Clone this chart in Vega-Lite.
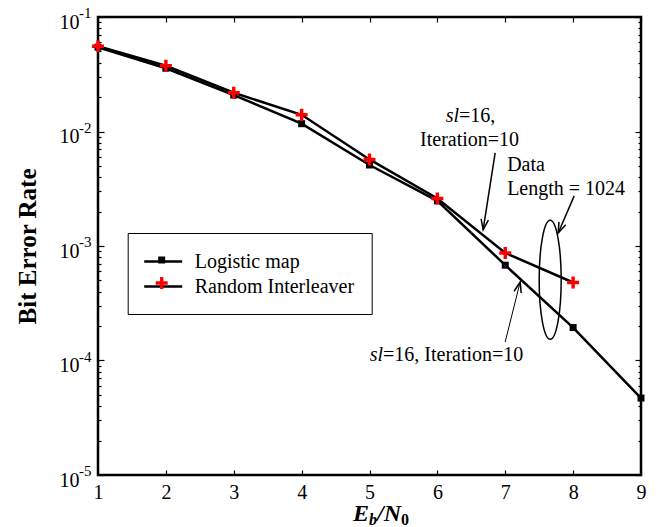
{
  "$schema": "https://vega.github.io/schema/vega-lite/v6.json",
  "width": 543,
  "height": 458,
  "autosize": {"type": "none"},
  "padding": {"left": 98, "top": 17, "right": 22, "bottom": 52},
  "background": "white",
  "config": {
    "view": {"stroke": "black", "strokeWidth": 2.5},
    "font": "Liberation Serif",
    "axis": {"domain": false, "grid": false, "tickColor": "black", "labelColor": "black", "labelFont": "Liberation Serif", "titleFont": "Liberation Serif", "titleColor": "black", "labelFlush": false, "labelOverlap": false},
    "legend": {"labelFont": "Liberation Serif", "labelColor": "black"},
    "text": {"font": "Liberation Serif", "color": "black"}
  },
  "datasets": {
    "ber": [
      {"snr": 1, "ber": 0.0545, "series": "Logistic map"},
      {"snr": 2, "ber": 0.0357, "series": "Logistic map"},
      {"snr": 3, "ber": 0.0208, "series": "Logistic map"},
      {"snr": 4, "ber": 0.0117, "series": "Logistic map"},
      {"snr": 5, "ber": 0.0051, "series": "Logistic map"},
      {"snr": 6, "ber": 0.00248, "series": "Logistic map"},
      {"snr": 7, "ber": 0.00068, "series": "Logistic map"},
      {"snr": 8, "ber": 0.000194, "series": "Logistic map"},
      {"snr": 9, "ber": 0.000047, "series": "Logistic map"},
      {"snr": 1, "ber": 0.0555, "series": "Random Interleaver"},
      {"snr": 2, "ber": 0.0375, "series": "Random Interleaver"},
      {"snr": 3, "ber": 0.0218, "series": "Random Interleaver"},
      {"snr": 4, "ber": 0.014, "series": "Random Interleaver"},
      {"snr": 5, "ber": 0.0057, "series": "Random Interleaver"},
      {"snr": 6, "ber": 0.0026, "series": "Random Interleaver"},
      {"snr": 7, "ber": 0.00087, "series": "Random Interleaver"},
      {"snr": 8, "ber": 0.00048, "series": "Random Interleaver"}
    ],
    "exps": [
      {"v": 0.1, "e": "-1"},
      {"v": 0.01, "e": "-2"},
      {"v": 0.001, "e": "-3"},
      {"v": 0.0001, "e": "-4"},
      {"v": 0.00001, "e": "-5"}
    ]
  },
  "layer": [
    {
      "data": {"name": "ber"},
      "mark": {"type": "line", "strokeWidth": 2.5},
      "encoding": {
        "x": {"field": "snr", "type": "quantitative",
          "scale": {"type": "linear", "domain": [1, 9], "nice": false, "zero": false},
          "axis": {"orient": "bottom", "values": [1, 2, 3, 4, 5, 6, 7, 8, 9], "format": "d", "labelFontSize": 20, "labelPadding": 12, "tickSize": -5, "tickWidth": 1.2, "title": null}},
        "y": {"field": "ber", "type": "quantitative",
          "scale": {"type": "log", "domain": [0.00001, 0.1], "nice": false},
          "axis": {"orient": "left",
            "values": [0.00001, 0.00002, 0.00003, 0.00004, 0.00005, 0.00006, 0.00007, 0.00008, 0.00009, 0.0001, 0.0002, 0.0003, 0.0004, 0.0005, 0.0006, 0.0007, 0.0008, 0.0009, 0.001, 0.002, 0.003, 0.004, 0.005, 0.006, 0.007, 0.008, 0.009, 0.01, 0.02, 0.03, 0.04, 0.05, 0.06, 0.07, 0.08, 0.09, 0.1],
            "labelExpr": "indexof([0.1,0.01,0.001,0.0001,0.00001], datum.value) >= 0 ? '10' : ''",
            "labelFontSize": 20, "labelPadding": 25, "labelOffset": 11, "labelBaseline": "alphabetic",
            "tickSize": {"condition": {"test": "indexof([0.1,0.01,0.001,0.0001,0.00001], datum.value) >= 0", "value": -6}, "value": -3},
            "tickWidth": 1.2,
            "title": "Bit Error Rate", "titleFontSize": 25, "titleFontWeight": "bold",
            "titleX": -71, "titleY": 229, "titleAngle": -90, "titleBaseline": "middle", "titleAlign": "center"}},
        "stroke": {"field": "series", "type": "nominal",
          "scale": {"domain": ["Logistic map", "Random Interleaver"], "range": ["black", "black"]},
          "legend": {"orient": "none", "legendX": 29.7, "legendY": 216, "title": null, "padding": 17, "rowPadding": 3,
            "symbolType": "M-1.2,0H2.6", "symbolSize": 400, "symbolStrokeWidth": 2.5, "labelFontSize": 20, "labelOffset": 27,
            "strokeColor": "black", "labelColor": "black", "zindex": 1}}
      }
    },
    {
      "data": {"name": "ber"},
      "mark": {"type": "point", "filled": true, "size": 400, "opacity": 1, "strokeWidth": 0},
      "encoding": {
        "x": {"field": "snr", "type": "quantitative",
          "scale": {"type": "linear", "domain": [1, 9], "nice": false, "zero": false},
          "axis": {"orient": "top", "values": [1, 2, 3, 4, 5, 6, 7, 8, 9], "labels": false, "tickSize": -5, "tickWidth": 1.2, "title": null}},
        "y": {"field": "ber", "type": "quantitative",
          "scale": {"type": "log", "domain": [0.00001, 0.1], "nice": false},
          "axis": {"orient": "right",
            "values": [0.00001, 0.00002, 0.00003, 0.00004, 0.00005, 0.00006, 0.00007, 0.00008, 0.00009, 0.0001, 0.0002, 0.0003, 0.0004, 0.0005, 0.0006, 0.0007, 0.0008, 0.0009, 0.001, 0.002, 0.003, 0.004, 0.005, 0.006, 0.007, 0.008, 0.009, 0.01, 0.02, 0.03, 0.04, 0.05, 0.06, 0.07, 0.08, 0.09, 0.1],
            "labels": false,
            "tickSize": {"condition": {"test": "indexof([0.1,0.01,0.001,0.0001,0.00001], datum.value) >= 0", "value": -6}, "value": -3},
            "tickWidth": 1.2, "title": null}},
        "color": {"field": "series", "type": "nominal",
          "scale": {"range": ["black", "#ff0000"]},
          "legend": {"orient": "none", "legendX": 36.7, "legendY": 216, "title": null, "padding": 17, "rowPadding": 3,
            "symbolSize": 400, "symbolStrokeWidth": 0, "labelFontSize": 20, "labelOffset": 27, "labelExpr": "''", "zindex": 2}},
        "shape": {"field": "series", "type": "nominal",
          "scale": {"range": ["M-0.35,-0.35H0.35V0.35H-0.35Z", "M-0.17,-0.6H0.17V-0.17H0.6V0.17H0.17V0.6H-0.17V0.17H-0.6V-0.17H-0.17Z"]},
          "legend": {"orient": "none", "legendX": 36.7, "legendY": 216, "title": null, "padding": 17, "rowPadding": 3,
            "symbolSize": 400, "symbolStrokeWidth": 0, "labelFontSize": 20, "labelOffset": 27, "labelExpr": "''", "zindex": 2}}
      }
    },
    {
      "data": {"name": "exps"},
      "mark": {"type": "text", "align": "left", "baseline": "alphabetic", "dx": -19, "dy": 1, "fontSize": 15},
      "encoding": {
        "x": {"datum": 1, "type": "quantitative", "scale": {"type": "linear", "domain": [1, 9], "nice": false, "zero": false}, "axis": null},
        "y": {"field": "v", "type": "quantitative", "scale": {"type": "log", "domain": [0.00001, 0.1], "nice": false}, "axis": null},
        "text": {"field": "e"}
      }
    },
    {
      "data": {"values": [{"x1": 6.851, "y1": 0.00652, "x2": 6.674, "y2": 0.001383}]},
      "layer": [
        {"mark": {"type": "rule", "strokeWidth": 1.5, "color": "black"},
         "encoding": {"x": {"field": "x1", "type": "quantitative", "axis": null}, "y": {"field": "y1", "type": "quantitative", "axis": null}, "x2": {"field": "x2"}, "y2": {"field": "y2"}}},
        {"mark": {"type": "point", "shape": "M-0.35,-1L0,0L0.35,-1", "size": 441, "angle": 8.9, "stroke": "black", "strokeWidth": 1.5, "filled": false, "opacity": 1},
         "encoding": {"x": {"field": "x2", "type": "quantitative", "axis": null}, "y": {"field": "y2", "type": "quantitative", "axis": null}}}
      ]
    },
    {
      "data": {"values": [{"x1": 8.016, "y1": 0.002741, "x2": 7.78, "y2": 0.0013}]},
      "layer": [
        {"mark": {"type": "rule", "strokeWidth": 1.5, "color": "black"},
         "encoding": {"x": {"field": "x1", "type": "quantitative", "axis": null}, "y": {"field": "y1", "type": "quantitative", "axis": null}, "x2": {"field": "x2"}, "y2": {"field": "y2"}}},
        {"mark": {"type": "point", "shape": "M-0.35,-1L0,0L0.35,-1", "size": 441, "angle": 23.4, "stroke": "black", "strokeWidth": 1.5, "filled": false, "opacity": 1},
         "encoding": {"x": {"field": "x2", "type": "quantitative", "axis": null}, "y": {"field": "y2", "type": "quantitative", "axis": null}}}
      ]
    },
    {
      "data": {"values": [{"x1": 6.999, "y1": 0.0001452, "x2": 7.22, "y2": 0.000485}]},
      "layer": [
        {"mark": {"type": "rule", "strokeWidth": 1, "color": "black"},
         "encoding": {"x": {"field": "x1", "type": "quantitative", "axis": null}, "y": {"field": "y1", "type": "quantitative", "axis": null}, "x2": {"field": "x2"}, "y2": {"field": "y2"}}},
        {"mark": {"type": "point", "shape": "M-0.35,-1L0,0L0.35,-1", "size": 441, "angle": 194, "stroke": "black", "strokeWidth": 1.5, "filled": false, "opacity": 1},
         "encoding": {"x": {"field": "x2", "type": "quantitative", "axis": null}, "y": {"field": "y2", "type": "quantitative", "axis": null}}}
      ]
    },
    {
      "data": {"values": [{"x": 7.662, "y": 0.000506}]},
      "mark": {"type": "point", "shape": "M0,-1A0.185,1 0 1,1 0,1A0.185,1 0 1,1 0,-1Z", "size": 14161, "stroke": "black", "strokeWidth": 1.5, "filled": false, "opacity": 1},
      "encoding": {"x": {"field": "x", "type": "quantitative", "axis": null}, "y": {"field": "y", "type": "quantitative", "axis": null}}
    },
    {
      "data": {"values": [{"x": 6.32, "y": 0.01217, "t": "sl"}, {"x": 5.199, "y": 0.0001, "t": "sl"}]},
      "mark": {"type": "text", "align": "right", "baseline": "alphabetic", "fontSize": 20, "fontStyle": "italic"},
      "encoding": {"x": {"field": "x", "type": "quantitative", "axis": null}, "y": {"field": "y", "type": "quantitative", "axis": null}, "text": {"field": "t"}}
    },
    {
      "data": {"values": [{"x": 6.32, "y": 0.01217, "t": "=16,"}, {"x": 5.199, "y": 0.0001, "t": "=16, Iteration=10"}, {"x": 7.028, "y": 0.00453, "t": "Data"}, {"x": 7.028, "y": 0.0028, "t": "Length = 1024"}]},
      "mark": {"type": "text", "align": "left", "baseline": "alphabetic", "fontSize": 20},
      "encoding": {"x": {"field": "x", "type": "quantitative", "axis": null}, "y": {"field": "y", "type": "quantitative", "axis": null}, "text": {"field": "t"}}
    },
    {
      "data": {"values": [{"x": 6.475, "y": 0.0075, "t": "Iteration=10"}]},
      "mark": {"type": "text", "align": "center", "baseline": "alphabetic", "fontSize": 20},
      "encoding": {"x": {"field": "x", "type": "quantitative", "axis": null}, "y": {"field": "y", "type": "quantitative", "axis": null}, "text": {"field": "t"}}
    },
    {
      "data": {"values": [{"t": "E"}, {"t": "/N"}]},
      "layer": [
        {"transform": [{"filter": "datum.t == 'E'"}],
         "mark": {"type": "text", "align": "left", "baseline": "alphabetic", "dx": -16.5, "dy": 46, "fontSize": 24, "fontWeight": "bold", "fontStyle": "italic"},
         "encoding": {"x": {"datum": 5, "type": "quantitative", "axis": null}, "y": {"datum": 0.00001, "type": "quantitative", "axis": null}, "text": {"field": "t"}}},
        {"transform": [{"filter": "datum.t == '/N'"}],
         "mark": {"type": "text", "align": "left", "baseline": "alphabetic", "dx": 7.5, "dy": 46, "fontSize": 24, "fontWeight": "bold", "fontStyle": "italic"},
         "encoding": {"x": {"datum": 5, "type": "quantitative", "axis": null}, "y": {"datum": 0.00001, "type": "quantitative", "axis": null}, "text": {"field": "t"}}}
      ]
    },
    {
      "data": {"values": [{"t": "b"}, {"t": "0"}]},
      "layer": [
        {"transform": [{"filter": "datum.t == 'b'"}],
         "mark": {"type": "text", "align": "left", "baseline": "alphabetic", "dx": -0.5, "dy": 50, "fontSize": 16, "fontWeight": "bold", "fontStyle": "italic"},
         "encoding": {"x": {"datum": 5, "type": "quantitative", "axis": null}, "y": {"datum": 0.00001, "type": "quantitative", "axis": null}, "text": {"field": "t"}}},
        {"transform": [{"filter": "datum.t == '0'"}],
         "mark": {"type": "text", "align": "left", "baseline": "alphabetic", "dx": 31.5, "dy": 50, "fontSize": 16, "fontWeight": "bold"},
         "encoding": {"x": {"datum": 5, "type": "quantitative", "axis": null}, "y": {"datum": 0.00001, "type": "quantitative", "axis": null}, "text": {"field": "t"}}}
      ]
    }
  ]
}
